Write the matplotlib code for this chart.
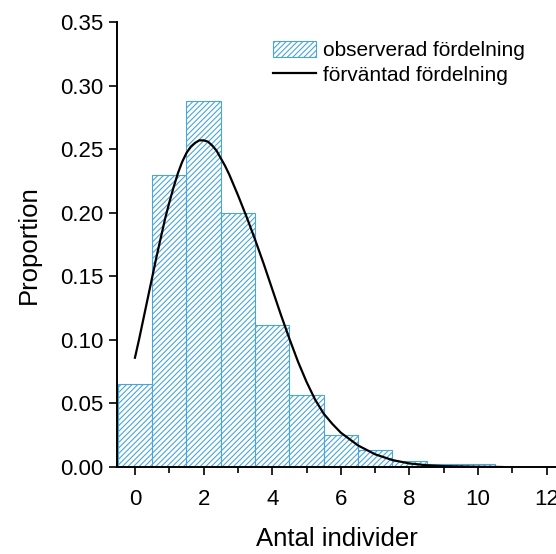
import numpy as np
import matplotlib.pyplot as plt

plt.rcParams['font.family'] = ['Liberation Sans', 'DejaVu Sans']
plt.rcParams['hatch.linewidth'] = 0.8

# observed proportions per count
counts = [0, 1, 2, 3, 4, 5, 6, 7, 8, 9, 10]
observed = [0.065, 0.230, 0.288, 0.200, 0.112, 0.057, 0.025, 0.013, 0.005, 0.002, 0.002]

# expected curve
curve_x = [0.0, 0.125, 0.25, 0.375, 0.5, 0.625, 0.75, 0.875, 1.0, 1.125, 1.25, 1.375, 1.5,
           1.625, 1.75, 1.875, 2.0, 2.125, 2.25, 2.375, 2.5, 2.625, 2.75, 2.875, 3.0,
           3.25, 3.5, 3.75, 4.0, 4.25, 4.5, 4.75, 5.0, 5.25, 5.5, 5.75, 6.0, 6.5, 7.0,
           7.5, 8.0, 8.5, 9.0, 10.0, 10.7]
curve_y = [0.086, 0.101, 0.117, 0.133, 0.149, 0.165, 0.180, 0.195, 0.208, 0.220, 0.231,
           0.240, 0.247, 0.252, 0.255, 0.257, 0.257, 0.256, 0.253, 0.249, 0.243, 0.237,
           0.230, 0.222, 0.214, 0.197, 0.179, 0.160, 0.140, 0.120, 0.101, 0.083, 0.067,
           0.053, 0.042, 0.034, 0.027, 0.017, 0.010, 0.0055, 0.0028, 0.0014, 0.0007,
           0.0002, 0.0]

xticks = [0, 2, 4, 6, 8, 10, 12]
yticks = [0.00, 0.05, 0.10, 0.15, 0.20, 0.25, 0.30, 0.35]

fig = plt.figure(figsize=(5.56, 5.54), dpi=100)
ax = fig.add_axes([0.21, 0.157, 0.79, 0.803])

bars = ax.bar(counts, observed, width=1.0, facecolor='white', edgecolor='#49a6dc',
              hatch='//////', linewidth=0.8, label='observerad fördelning')
line, = ax.plot(curve_x, curve_y, color='black', linewidth=1.6, label='förväntad fördelning')

ax.set_xlim(-0.53, 12.27)
ax.set_ylim(0, 0.35)
ax.set_xticks(xticks)
ax.set_xticks([1, 3, 5, 7, 9, 11], minor=True)
ax.set_yticks(yticks)
ax.set_yticklabels(['%.2f' % v for v in yticks])
ax.tick_params(axis='both', which='major', labelsize=16, direction='out', length=6, width=1.2)
ax.tick_params(axis='x', which='minor', direction='out', length=4, width=1.2)
ax.tick_params(axis='x', pad=10)

for s in ['top', 'right']:
    ax.spines[s].set_visible(False)
for s in ['left', 'bottom']:
    ax.spines[s].set_linewidth(1.4)

ax.set_xlabel('Antal individer', fontsize=18.5, labelpad=12)
ax.set_ylabel('Proportion', fontsize=18.5, labelpad=14)

ax.legend([bars, line], ['observerad fördelning', 'förväntad fördelning'],
          loc='upper left', bbox_to_anchor=(0.312, 1.0), frameon=False, fontsize=15,
          handlelength=2.1, handleheight=0.8, handletextpad=0.3, labelspacing=0.25)

fig.savefig('out.png', dpi=100)
